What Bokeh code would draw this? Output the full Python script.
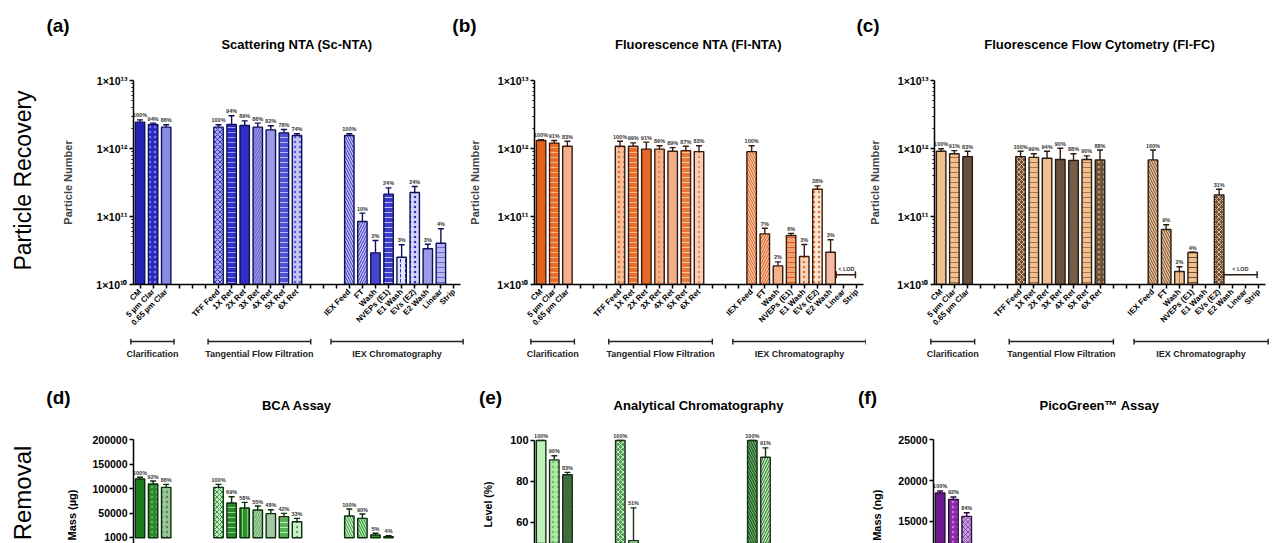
import math
from bokeh.plotting import figure
from bokeh.models import (FactorRange, Range1d, ColumnDataSource, Whisker, TeeHead, Label,
                          FixedTicker, CustomJSTickFormatter, NumeralTickFormatter)
from bokeh.layouts import column, row
from bokeh.embed import file_html
from bokeh.resources import INLINE
from bokeh.core.properties import value

FONT = "Liberation Sans"

# ---------------- categories ----------------
clar_cats = ["CM", "5 µm Clar", "0.65 µm Clar"]
tff_cats = ["TFF Feed", "1X Ret", "2X Ret", "3X Ret", "4X Ret", "5X Ret", "6X Ret"]
iex_cats = ["IEX Feed", "FT", "Wash", "NVEPs (E1)", "E1 Wash", "EVs (E2)", "E2 Wash", "Linear", "Strip"]
gap1 = [" ", "  ", "   "]
gap2 = ["    ", "     ", "      "]
factors = clar_cats + gap1 + tff_cats + gap2 + iex_cats
group_names = ["Clarification", "Tangential Flow Filtration", "IEX Chromatography"]

# ---------------- (a) Scattering NTA ----------------
a_cats = clar_cats + tff_cats + iex_cats[:8]
a_val = [2.44e12, 2.25e12, 2.06e12,
         2.06e12, 2.25e12, 2.18e12, 2.06e12, 1.88e12, 1.70e12, 1.55e12,
         1.55e12, 8.43e10, 2.92e10, 2.13e11, 2.52e10, 2.25e11, 3.35e10, 4.05e10]
a_err = [2.64e12, 2.36e12, 2.23e12,
         2.23e12, 3.03e12, 2.55e12, 2.36e12, 2.16e12, 1.90e12, 1.65e12,
         1.65e12, 1.12e11, 4.44e10, 2.64e11, 3.84e10, 2.76e11, 3.90e10, 6.60e10]
a_pct = ["100%", "94%", "86%", "100%", "94%", "89%", "86%", "82%", "78%", "74%",
         "100%", "10%", "2%", "24%", "3%", "24%", "3%", "4%"]

# ---------------- (b) Fluorescence NTA ----------------
b_cats = clar_cats + tff_cats + iex_cats[:7]
b_val = [1.31e12, 1.20e12, 1.08e12,
         1.08e12, 1.08e12, 0.98e12, 0.98e12, 0.91e12, 0.93e12, 0.90e12,
         0.90e12, 5.56e10, 1.88e10, 5.25e10, 2.58e10, 2.52e11, 2.98e10]
b_err = [1.35e12, 1.31e12, 1.28e12,
         1.28e12, 1.21e12, 1.24e12, 1.10e12, 1.03e12, 1.08e12, 1.10e12,
         1.10e12, 6.73e10, 2.15e10, 5.65e10, 3.87e10, 2.82e11, 4.54e10]
b_pct = ["100%", "91%", "83%", "100%", "99%", "91%", "89%", "89%", "87%", "83%",
         "100%", "7%", "2%", "6%", "3%", "28%", "3%"]
b_lod_level = 1.39e10

# ---------------- (c) Fluorescence Flow Cytometry ----------------
c_cats = clar_cats + tff_cats + ["IEX Feed", "FT", "Wash", "NVEPs (E1)", "EVs (E2)"]
c_val = [0.91e12, 0.836e12, 0.76e12,
         0.76e12, 0.74e12, 0.72e12, 0.69e12, 0.667e12, 0.69e12, 0.68e12,
         0.68e12, 6.44e10, 1.55e10, 2.96e10, 2.08e11]
c_err = [0.99e12, 0.93e12, 0.91e12,
         0.91e12, 0.836e12, 0.91e12, 1.01e12, 0.836e12, 0.78e12, 0.95e12,
         0.95e12, 7.55e10, 1.82e10, 2.99e10, 2.52e11]
c_pct = ["100%", "91%", "83%", "100%", "99%", "94%", "90%", "88%", "90%", "88%",
         "100%", "9%", "2%", "4%", "31%"]
c_lod_level = 1.39e10

# ---------------- (d) BCA Assay ----------------
d_cats = clar_cats + tff_cats + ["IEX Feed", "FT", "Wash", "NVEPs (E1)"]
d_val = [119900, 109700, 102900,
         102900, 70900, 60800, 56700, 49200, 43000, 32800,
         44400, 39700, 5700, 2200]
d_err = [123300, 115800, 109000,
         109000, 83800, 72300, 64800, 57300, 49900, 39700,
         58700, 48500, 9200, 4300]
d_pct = ["100%", "92%", "86%", "100%", "69%", "58%", "55%", "48%", "42%", "33%",
         "100%", "90%", "5%", "4%"]
d_ticks = [1000, 50000, 100000, 150000, 200000]

# ---------------- (e) Analytical Chromatography ----------------
e_cats = ["CM", "5 µm Clar", "0.65 µm Clar", "TFF Feed", "1X Ret", "IEX Feed", "FT"]
e_val = [100, 90.5, 83.2, 100, 51.0, 100, 91.8]
e_err = [100, 92.5, 84.4, 100, 67.0, 100, 96.4]
e_pct = ["100%", "90%", "83%", "100%", "51%", "100%", "91%"]
e_ticks = [60, 80, 100]

# ---------------- (f) PicoGreen Assay ----------------
f_cats = clar_cats
f_val = [18490, 17710, 15630]
f_err = [18740, 18000, 16080]
f_pct = ["100%", "92%", "84%"]
f_ticks = [15000, 20000, 25000]

# ---------------- styles ----------------
a_style = [("#2222b5", " ", "#2222b5"), ("#2a2ac2", ".", "#7a7ae6"), ("#8a8ae2", " ", "#8a8ae2"),
           ("#a8a8ee", "x", "#3a3ac0"), ("#2e2ec4", "-", "#9a9af0"), ("#3030c6", " ", "#3030c6"),
           ("#9898e4", "/", "#5a5ad0"), ("#9c9ce6", " ", "#9c9ce6"), ("#5050d2", "-", "#b8b8f6"),
           ("#c4c4f4", ".", "#5a5ad0"),
           ("#c8c8f6", "\\", "#3030c0"), ("#c8c8f6", "/", "#3030c0"), ("#4444cc", " ", "#4444cc"),
           ("#3a3ac8", "-", "#c0c0f6"), ("#e4e4fb", ":", "#3030c0"), ("#d4d4f8", ".", "#3030c0"),
           ("#9c9ce6", " ", "#9c9ce6"), ("#b4b4f0", "-", "#6a6ad8")]
b_style = [("#e4621c", " ", "#e4621c"), ("#e86c2c", "-", "#f4b080"), ("#f2b08c", " ", "#f2b08c"),
           ("#f5c0a0", ".", "#e07030"), ("#e8702e", "-", "#f6b890"), ("#e6682a", " ", "#e6682a"),
           ("#f2b28e", ".", "#e88a50"), ("#f0b08a", " ", "#f0b08a"), ("#ea7838", "-", "#f8c8a8"),
           ("#f8cfb6", ".", "#e89060"),
           ("#f6c8a8", "\\", "#e06020"), ("#f6c0a0", "/", "#e06020"), ("#f2b08c", " ", "#f2b08c"),
           ("#f0a274", "-", "#e06020"), ("#f8d6c0", ".", "#e07030"), ("#fde6d6", ".", "#e07030"),
           ("#f4bca2", " ", "#f4bca2")]
LT, DK = "#f2c08c", "#6b5240"
c_style = [(LT, " ", LT), (LT, "-", "#a07850"), (DK, " ", DK),
           (DK, "x", "#e8b888"), (LT, "-", "#a07850"), (LT, " ", LT), (DK, " ", DK),
           (DK, "/", "#8a7058"), (LT, "-", "#a07850"), (DK, ".", "#c09870"),
           (LT, "\\", DK), (LT, "\\", DK), (LT, "|", "#a07850"), (LT, "-", DK), (DK, "x", "#e8b888")]
d_style = [("#1e7a1e", " ", "#1e7a1e"), ("#2a8a2a", ".", "#60b060"), ("#98c898", ".", "#608060"),
           ("#c4ecc4", "x", "#3a9a3a"), ("#2a8a2a", "-", "#90d090"), ("#2e8e2e", "|", "#80c880"),
           ("#a8d8a8", "/", "#60a060"), ("#a4c8a4", " ", "#a4c8a4"), ("#58b058", "-", "#c0ecc0"),
           ("#ccf0cc", ".", "#60b060"),
           ("#c8f0c8", "\\", "#3a9a3a"), ("#b8e8b8", "\\", "#2a8a2a"), ("#2a9a2a", "-", "#a0e0a0"),
           ("#40a840", "-", "#c0f0c0")]
e_style = [("#bff2b8", " ", "#bff2b8"), ("#ace8a4", ".", "#70c070"), ("#4c7c4c", "/", "#2a5a2a"),
           ("#5aa05a", "x", "#c0f0c0"), ("#ace8a4", " ", "#ace8a4"),
           ("#60aa60", "\\", "#1a4a1a"), ("#bff2b8", "/", "#2a6a2a")]
f_style = [("#6a1a8a", " ", "#6a1a8a"), ("#8a2aa8", ".", "#c080d8"), ("#c8a0dc", "x", "#8a4aa8")]

LOG_FMT = """
const e = Math.round(Math.log10(tick));
const s = {"0":"⁰","1":"¹","2":"²","3":"³","4":"⁴","5":"⁵","6":"⁶","7":"⁷","8":"⁸","9":"⁹"};
return "1×10" + String(e).split("").map(c => s[c]).join("");
"""


def clean(p):
    p.outline_line_color = None
    p.grid.visible = False
    p.background_fill_color = "white"
    p.border_fill_color = "white"


def blank(width, height):
    p = figure(width=width, height=height, x_range=Range1d(0, 1), y_range=Range1d(0, 1),
               x_axis_location=None, y_axis_location=None, output_backend="svg",
               toolbar_location=None, min_border_left=0, min_border_right=0,
               min_border_top=0, min_border_bottom=0)
    clean(p)
    return p


def style_axis(ax, size):
    ax.axis_line_width = 1.5
    ax.axis_line_color = "black"
    ax.major_tick_line_width = 1.5
    ax.major_tick_line_color = "black"
    ax.major_tick_in = 0
    ax.major_tick_out = 4
    ax.minor_tick_in = 0
    ax.minor_tick_out = 2
    ax.minor_tick_line_width = 1
    ax.major_label_text_font = FONT
    ax.major_label_text_font_style = "bold"
    ax.major_label_text_font_size = size
    ax.major_label_text_color = "black"


def add_bars(p, cats, vals, errs, pcts, style, line, bottom):
    src = ColumnDataSource(dict(x=cats, top=vals, upper=errs, pct=pcts,
                                fill=[s[0] for s in style], hatch=[s[1] for s in style],
                                hcol=[s[2] for s in style]))
    p.vbar(x="x", top="top", bottom=bottom, width=0.72, source=src,
           fill_color="fill", line_color=line, line_width=1.4,
           hatch_pattern="hatch", hatch_color="hcol", hatch_scale=5, hatch_weight=1)
    p.add_layout(Whisker(source=src, base="x", upper="upper", lower="top",
                         line_color=line, line_width=1.4,
                         upper_head=TeeHead(size=6, line_color=line, line_width=1.4),
                         lower_head=None))
    p.text(x="x", y="upper", text="pct", source=src, text_font=value(FONT),
           text_font_style="bold", text_font_size="5.5px", text_color="#333333",
           text_align="center", text_baseline="bottom", y_offset=-1.5)


def top_chart(width, left, right, cats, vals, errs, pcts, style, line, label_standoff, lod=None):
    p = figure(width=width, height=274, x_range=FactorRange(factors=factors),
               y_range=Range1d(1e10, 1e13), y_axis_type="log",
               output_backend="svg", toolbar_location=None,
               min_border_left=left, min_border_right=right,
               min_border_top=16, min_border_bottom=54)
    clean(p)
    ya = p.yaxis[0]
    ya.ticker = FixedTicker(ticks=[1e10, 1e11, 1e12, 1e13],
                            minor_ticks=[m * 10.0 ** k for k in (10, 11, 12) for m in range(2, 10)])
    ya.formatter = CustomJSTickFormatter(code=LOG_FMT)
    ya.bounds = (1e10, 1e13)
    style_axis(ya, "10.5px")
    ya.major_label_standoff = 2
    ya.axis_label = "Particle Number"
    ya.axis_label_text_font = FONT
    ya.axis_label_text_font_style = "bold"
    ya.axis_label_text_font_size = "11px"
    ya.axis_label_standoff = label_standoff
    xa = p.xaxis[0]
    style_axis(xa, "8px")
    xa.major_label_orientation = math.pi / 4
    xa.major_label_standoff = 2
    add_bars(p, cats, vals, errs, pcts, style, line, 1e10)
    if lod is not None:
        start, end, mid, lvl = lod
        p.segment(x0=[start], y0=[lvl], x1=[end], y1=[lvl], line_color=line, line_width=1.4)
        p.scatter(x=[start, end], y=[lvl, lvl], marker="dash", angle=math.pi / 2, size=7,
                  line_color=line, line_width=1.4)
        p.text(x=[mid], y=[lvl], text=["< LOD"], text_font=value(FONT), text_font_style="bold",
               text_font_size="5.5px", text_color="#333333", text_align="center",
               text_baseline="bottom", y_offset=-3)
    return p


def bracket_fig(width, left, frame_w):
    n = len(factors)
    slot = frame_w / n
    right = width - left - frame_w
    p = figure(width=width, height=30, x_range=Range1d(-left / slot, n + right / slot),
               y_range=Range1d(0, 30), x_axis_location=None, y_axis_location=None,
               output_backend="svg", toolbar_location=None,
               min_border_left=0, min_border_right=0, min_border_top=0, min_border_bottom=0)
    clean(p)
    groups = [(clar_cats, -0.7, 0.6), (tff_cats, -0.8, 1.05), (iex_cats, -1.4, 0.7)]
    x0s, x1s, mids = [], [], []
    for cats, o0, o1 in groups:
        a = factors.index(cats[0]) + 0.5 + o0
        b = factors.index(cats[-1]) + 0.5 + o1
        x0s.append(a); x1s.append(b); mids.append((a + b) / 2)
    p.segment(x0=x0s, x1=x1s, y0=[27] * 3, y1=[27] * 3, line_color="#222222", line_width=1.4)
    p.scatter(x=x0s + x1s, y=[27] * 6, marker="dash", angle=math.pi / 2, size=6,
              line_color="#222222", line_width=1.4)
    p.text(x=mids, y=[15] * 3, text=group_names, text_font=value(FONT), text_font_style="bold",
           text_font_size="9px", text_align="center", text_baseline="middle", text_color="#222222")
    return p


def bottom_chart(width, left, right, cats, vals, errs, pcts, style, line, yr, ticks, top_bound, tsize):
    p = figure(width=width, height=119, x_range=FactorRange(factors=factors),
               y_range=Range1d(*yr), x_axis_location=None,
               output_backend="svg", toolbar_location=None,
               min_border_left=left, min_border_right=right,
               min_border_top=2, min_border_bottom=0)
    clean(p)
    ya = p.yaxis[0]
    ya.ticker = FixedTicker(ticks=ticks, minor_ticks=[])
    ya.formatter = NumeralTickFormatter(format="0")
    ya.bounds = (yr[0], top_bound)
    style_axis(ya, tsize)
    ya.major_label_standoff = 2
    add_bars(p, cats, vals, errs, pcts, style, line, 0)
    return p


def vlabel(p, text, x, y, size, align="center", weight="bold"):
    p.add_layout(Label(x=x, y=y, x_units="screen", y_units="screen", text=text, angle=math.pi / 2,
                       text_font=FONT, text_font_style=weight, text_font_size=size,
                       text_align=align, text_baseline="middle", text_color="black"))


def header(height, items):
    h = blank(1280, height)
    for txt, x, y, size in items:
        h.add_layout(Label(x=x, y=y, x_units="screen", y_units="screen", text=txt,
                           text_font=FONT, text_font_style="bold", text_font_size=size,
                           text_align="center", text_baseline="middle", text_color="black"))
    return h


# ---------- row 1 ----------
h1 = header(64, [("(a)", 57.5, 39, "19px"), ("(b)", 464, 39, "19px"), ("(c)", 867.5, 39, "19px"),
                 ("Scattering NTA (Sc-NTA)", 296.5, 20, "13px"),
                 ("Fluorescence NTA (Fl-NTA)", 698, 20, "13px"),
                 ("Fluorescence Flow Cytometry (Fl-FC)", 1099, 20, "13px")])

# frames in a row are aligned, so this label's frame spans the chart frame (y 80..284)
lab1 = blank(42, 274)
vlabel(lab1, "Particle Recovery", 22, 104, "23px", weight="normal")
pa = top_chart(424, 91, 6, a_cats, a_val, a_err, a_pct, a_style, "#10105a", 19)
pb = top_chart(400, 67, 3, b_cats, b_val, b_err, b_pct, b_style, "#3a1c0c", 13,
               lod=(("Linear", -0.57), ("Strip", -0.11), ("Linear", 0.2), b_lod_level))
pc = top_chart(414, 67, 15, c_cats, c_val, c_err, c_pct, c_style, "#2a1c12", 13,
               lod=(("E2 Wash", -0.66), ("Strip", -0.13), ("Linear", -0.4), c_lod_level))

ba = bracket_fig(466, 133, 327)
bb = bracket_fig(400, 67, 330)
bc = bracket_fig(414, 67, 332)

# ---------- row 2 ----------
h2 = header(56, [("(d)", 58, 27.5, "19px"), ("(e)", 490, 27.5, "19px"), ("(f)", 867, 27.5, "19px"),
                 ("BCA Assay", 296.5, 19.5, "13px"),
                 ("Analytical Chromatography", 698, 19.5, "13px"),
                 ("PicoGreen™ Assay", 1099, 19.5, "13px")])

lab2 = blank(42, 119)
vlabel(lab2, "Removal", 22, 50.5, "24px", weight="normal")
lab_d = blank(42, 119)
vlabel(lab_d, "Mass (µg)", 29, 54, "11px", align="right")
pd_ = bottom_chart(382, 49, 6, d_cats, d_val, d_err, d_pct, d_style, "#0c2e0c",
                   (-11600, 226900), d_ticks, 200000, "10.5px")
lab_e = blank(34, 119)
vlabel(lab_e, "Level (%)", 21, 39, "10.5px")
pe = bottom_chart(366, 34, 2, e_cats, e_val, e_err, e_pct, e_style, "#1a2e1a",
                  (49.57, 106.85), e_ticks, 100, "11px")
lab_f = blank(24, 119)
vlabel(lab_f, "Mass (ng)", 10, 54, "11px", align="right")
pf = bottom_chart(390, 43, 15, f_cats, f_val, f_err, f_pct, f_style, "#2a0a3a",
                  (12307, 26628), f_ticks, 25000, "10.5px")

layout = column(h1,
                row(lab1, pa, pb, pc),
                row(ba, bb, bc),
                h2,
                row(lab2, lab_d, pd_, lab_e, pe, lab_f, pf))
open("out.html", "w").write(file_html(layout, INLINE))
